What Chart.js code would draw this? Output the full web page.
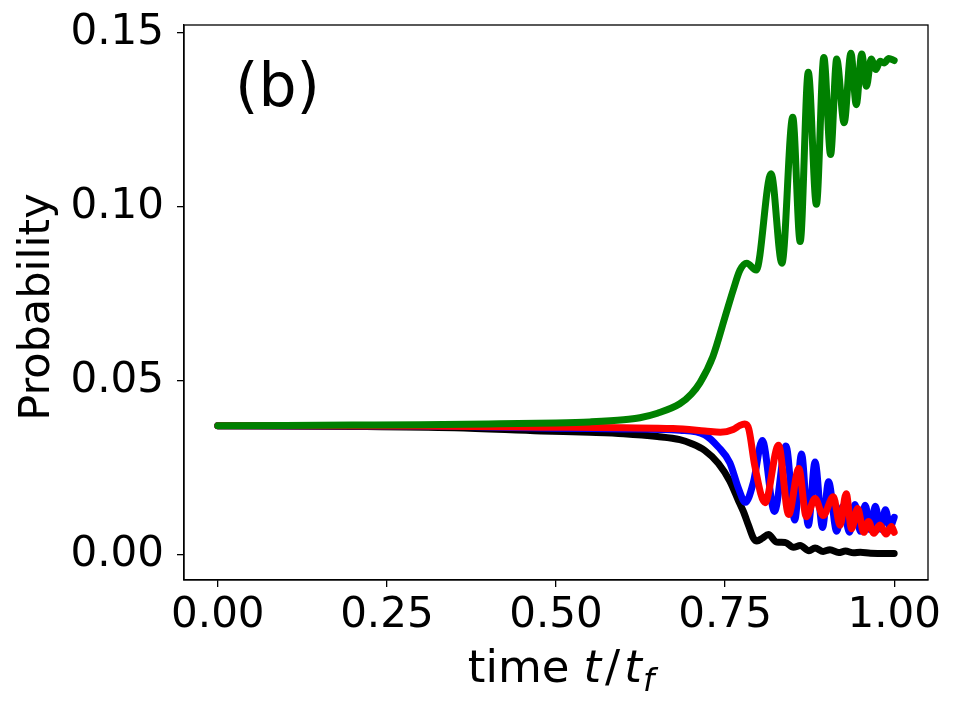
<!DOCTYPE html>
<html>
<head>
<meta charset="utf-8">
<script src="https://cdn.jsdelivr.net/npm/chart.js@4.4.1/dist/chart.umd.min.js"></script>
<style>
  html, body { margin: 0; padding: 0; background: #fff; }
  #wrap { width: 961px; height: 707px; }
</style>
</head>
<body>
<div id="wrap"><canvas id="probChart" width="961" height="707"></canvas></div>
<script>
// tick positions
const xTicks = [0, 0.25, 0.5, 0.75, 1.0];
const yTicks = [0, 0.05, 0.10, 0.15];

// black curve
const tBlack = [0, 0.2, 0.35, 0.478, 0.55, 0.6, 0.65, 0.683, 0.70, 0.72, 0.74, 0.757, 0.77, 0.777, 0.785, 0.792, 0.797,
  0.805, 0.814, 0.826, 0.839, 0.851, 0.861, 0.874, 0.883, 0.895, 0.905, 0.918, 0.928, 0.94, 0.95, 0.965, 1.0];
const pBlack = [0.0371, 0.0369, 0.0365, 0.0356, 0.0352, 0.0348, 0.0340, 0.0331, 0.0320, 0.0300, 0.0263, 0.0212, 0.0155, 0.0125, 0.0083, 0.0048, 0.0040,
  0.0048, 0.0059, 0.0037, 0.0036, 0.0022, 0.0027, 0.0012, 0.0020, 0.0010, 0.0015, 0.0007, 0.0011, 0.0006, 0.0008, 0.0005, 0.0004];

// blue curve
const tBlue = [0, 0.3, 0.5, 0.6, 0.683, 0.72, 0.74, 0.757, 0.77, 0.78, 0.792, 0.805, 0.823, 0.84, 0.853, 0.863, 0.873,
  0.883, 0.894, 0.903, 0.915, 0.924, 0.934, 0.942, 0.95, 0.957, 0.965, 0.972, 0.98, 0.987, 0.994, 1.0];
const pBlue = [0.0371, 0.0370, 0.0364, 0.0362, 0.0358, 0.0345, 0.0310, 0.0265, 0.0190, 0.0151, 0.0210, 0.0329, 0.0125, 0.0313, 0.0100, 0.0290, 0.0085,
  0.0267, 0.0079, 0.0210, 0.0068, 0.0140, 0.0065, 0.0145, 0.0068, 0.0143, 0.0072, 0.0140, 0.0074, 0.0130, 0.0080, 0.0108];

// red curve
const tRed = [0, 0.3, 0.478, 0.6, 0.673, 0.72, 0.743, 0.762, 0.772, 0.779, 0.785, 0.794, 0.809, 0.829, 0.844, 0.859, 0.870,
  0.883, 0.895, 0.910, 0.920, 0.929, 0.937, 0.946, 0.955, 0.962, 0.970, 0.979, 0.988, 0.996, 1.0];
const pRed = [0.0371, 0.0370, 0.0367, 0.0365, 0.0363, 0.0356, 0.0352, 0.0360, 0.0372, 0.0376, 0.0362, 0.0255, 0.0150, 0.0315, 0.0116, 0.0248, 0.0110,
  0.0162, 0.0113, 0.0167, 0.0085, 0.0176, 0.0075, 0.0133, 0.0065, 0.0096, 0.0062, 0.0086, 0.0060, 0.0082, 0.0065];

// green curve
const tGreen = [0, 0.1, 0.2, 0.3, 0.4, 0.5, 0.55, 0.6, 0.624, 0.65, 0.683, 0.70, 0.713, 0.732, 0.75, 0.762, 0.772, 0.782, 0.796,
  0.818, 0.834, 0.850, 0.861, 0.873, 0.885, 0.896, 0.906, 0.915, 0.926, 0.936, 0.944, 0.952, 0.959, 0.966, 0.973, 0.979, 0.985, 0.992, 1.0];
const pGreen = [0.0371, 0.0372, 0.0373, 0.0374, 0.0376, 0.0379, 0.0382, 0.0388, 0.0394, 0.0407, 0.0434, 0.0462, 0.0495, 0.0570, 0.0684, 0.0761, 0.0818, 0.0838, 0.0818,
  0.1095, 0.0838, 0.1257, 0.0900, 0.1386, 0.1007, 0.1429, 0.1150, 0.1424, 0.1241, 0.1441, 0.1293, 0.1439, 0.1346, 0.1424, 0.1394, 0.1418, 0.1413, 0.1426, 0.1420];

const FONT = "'DejaVu Sans', sans-serif";

function toPoints(ts, ps) {
    return ts.map((t, i) => ({ x: t, y: ps[i] }));
}

function makeSet(ts, ps, color, order) {
    return {
        data: toPoints(ts, ps),
        borderColor: color,
        backgroundColor: color,
        borderWidth: 7,
        pointRadius: 0,
        fill: false,
        cubicInterpolationMode: 'monotone',
        borderCapStyle: 'round',
        borderJoinStyle: 'round',
        order: order
    };
}

// no label overflow padding, so the plot box sits where the reference has it
function noPad(scale) {
    scale.paddingTop = 0;
    scale.paddingBottom = 0;
    scale.paddingLeft = 0;
    scale.paddingRight = 0;
}

// frame, axis titles and the panel tag
const decorPlugin = {
    id: 'decor',
    afterDraw(chart) {
        const c = chart.ctx;
        const a = chart.chartArea;
        c.save();
        c.strokeStyle = '#000';
        c.lineWidth = 1.3;
        c.strokeRect(a.left, a.top, a.right - a.left, a.bottom - a.top);

        c.fillStyle = '#000';
        c.font = '60px ' + FONT;
        c.textAlign = 'left';
        c.textBaseline = 'alphabetic';
        c.fillText('(b)', 235, 106);

        // y title
        c.save();
        c.translate(49, 307);
        c.rotate(-Math.PI / 2);
        c.font = '43px ' + FONT;
        c.textAlign = 'center';
        c.fillText('Probability', 0, 0);
        c.restore();

        // x title: time t/t_f
        const base = 682;
        const parts = [
            { s: 'time', f: '45px ' + FONT, dy: 0, gap: 14 },
            { s: 't', f: 'oblique 45px ' + FONT, dy: 0, gap: 4 },
            { s: '/', f: '45px ' + FONT, dy: 0, gap: 4 },
            { s: 't', f: 'oblique 45px ' + FONT, dy: 0, gap: 1 },
            { s: 'f', f: 'oblique 32px ' + FONT, dy: 9, gap: 0 }
        ];
        let total = 0;
        parts.forEach(p => { c.font = p.f; p.w = c.measureText(p.s).width; total += p.w + p.gap; });
        let x = 561 - total / 2;
        c.textAlign = 'left';
        parts.forEach(p => {
            c.font = p.f;
            c.fillText(p.s, x, base + p.dy);
            x += p.w + p.gap;
        });
        c.restore();
    }
};

const ctx = document.getElementById('probChart').getContext('2d');
const chart = new Chart(ctx, {
    type: 'line',
    data: {
        datasets: [
            makeSet(tGreen, pGreen, '#008000', 0),
            makeSet(tRed, pRed, '#ff0000', 1),
            makeSet(tBlue, pBlue, '#0000ff', 2),
            makeSet(tBlack, pBlack, '#000000', 3)
        ]
    },
    options: {
        responsive: false,
        devicePixelRatio: 1,
        animation: false,
        layout: { padding: { top: 25, right: 33, left: 0, bottom: 0 } },
        plugins: {
            legend: { display: false },
            tooltip: { enabled: false },
            title: { display: false }
        },
        scales: {
            x: {
                type: 'linear',
                min: -0.05,
                max: 1.05,
                afterBuildTicks: (scale) => { scale.ticks = xTicks.map(v => ({ value: v })); },
                afterFit: (scale) => { scale.height = 127; noPad(scale); },
                ticks: {
                    color: '#000',
                    font: { family: FONT, size: 42 },
                    padding: 4,
                    maxRotation: 0,
                    autoSkip: false,
                    callback: (v) => Number(v).toFixed(2)
                },
                grid: {
                    drawOnChartArea: false,
                    drawTicks: true,
                    tickLength: 7,
                    color: '#000',
                    lineWidth: 1.3
                },
                border: { display: true, color: '#000', width: 1.3 }
            },
            y: {
                type: 'linear',
                min: -0.0072,
                max: 0.1522,
                afterBuildTicks: (scale) => { scale.ticks = yTicks.map(v => ({ value: v })); },
                afterFit: (scale) => { scale.width = 184; noPad(scale); },
                ticks: {
                    color: '#000',
                    font: { family: FONT, size: 42 },
                    padding: 13,
                    autoSkip: false,
                    callback: (v) => Number(v).toFixed(2)
                },
                grid: {
                    drawOnChartArea: false,
                    drawTicks: true,
                    tickLength: 7,
                    color: '#000',
                    lineWidth: 1.3
                },
                border: { display: true, color: '#000', width: 1.3 }
            }
        }
    },
    plugins: [decorPlugin]
});
</script>
</body>
</html>
